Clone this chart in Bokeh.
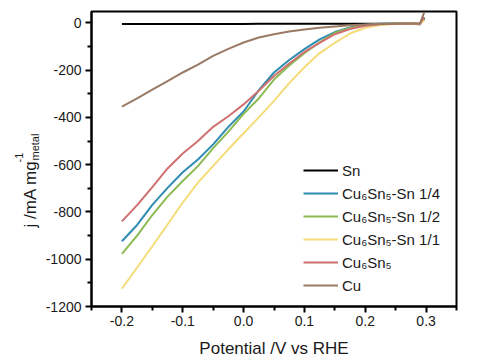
import math
from bokeh.plotting import figure
from bokeh.layouts import row
from bokeh.models import (Legend, LegendItem, FixedTicker,
                          CustomJSTickFormatter, ColumnDataSource)
from bokeh.core.properties import value
from bokeh.embed import file_html
from bokeh.resources import INLINE

# ---------------- data ----------------
potential = [-0.2, -0.175, -0.15, -0.125, -0.1, -0.075, -0.05, -0.025, 0.0,
             0.025, 0.05, 0.075, 0.1, 0.125, 0.15, 0.175, 0.2, 0.225, 0.25,
             0.275, 0.29, 0.297]

sn = [-5, -5, -5, -5, -5, -5, -5, -5, -5, -4, -4, -4, -4, -4, -4, -4, -4,
      -4, -4, -4, -6, 20]
cu6sn5_sn_14 = [-924, -855, -770, -698, -632, -578, -514, -440, -375, -285,
                -210, -157, -111, -70, -39, -20, -8, -4, -3, -3, -5, 20]
cu6sn5_sn_12 = [-977, -900, -813, -735, -669, -606, -530, -460, -385, -320,
                -240, -180, -128, -82, -42, -22, -10, -5, -3, -3, -4, 15]
cu6sn5_sn_11 = [-1125, -1035, -945, -853, -760, -676, -605, -535, -467, -400,
                -330, -255, -188, -128, -85, -45, -21, -9, -5, -3, -4, 10]
cu6sn5 = [-840, -771, -695, -616, -553, -500, -440, -395, -345, -287, -225,
          -172, -123, -85, -48, -26, -12, -6, -4, -3, -4, 25]
cu = [-354, -320, -283, -247, -210, -177, -140, -110, -83, -62, -48, -37,
      -28, -21, -15, -10, -7, -5, -4, -3, -3, 45]

series_names = ["Sn", "Cu\u2086Sn\u2085-Sn 1/4", "Cu\u2086Sn\u2085-Sn 1/2",
                "Cu\u2086Sn\u2085-Sn 1/1", "Cu\u2086Sn\u2085", "Cu"]
series_values = [sn, cu6sn5_sn_14, cu6sn5_sn_12, cu6sn5_sn_11, cu6sn5, cu]
series_colors = ["#000000", "#2e8cb0", "#8cba52", "#f4dc78", "#d07070",
                 "#9a7a64"]

x_ticks = [-0.2, -0.1, 0.0, 0.1, 0.2, 0.3]
x_minor = [-0.25, -0.15, -0.05, 0.05, 0.15, 0.25, 0.35]
y_ticks = [-1200, -1000, -800, -600, -400, -200, 0]
y_minor = [-1100, -900, -700, -500, -300, -100]

# y-axis title pieces: main text, superscript, subscript
y_title_parts = ["j /mA mg", "-1", "metal"]

FONT = "Liberation Sans"
TXT = "#1a1a1a"

# ---------------- main figure ----------------
p = figure(frame_width=365, frame_height=295,
           x_range=(-0.25, 0.35), y_range=(-1200, 48),
           output_backend="svg", toolbar_location=None,
           min_border_left=51, min_border_right=22,
           min_border_top=11, min_border_bottom=52)
p.xgrid.visible = False
p.ygrid.visible = False
p.outline_line_color = "black"
p.outline_line_width = 2
p.outline_line_alpha = 1.0
p.background_fill_color = "white"
p.border_fill_color = "white"

renderers = []
for name, vals, col in zip(series_names, series_values, series_colors):
    src = ColumnDataSource(dict(x=potential, y=vals))
    r = p.line("x", "y", source=src, line_color=col, line_width=2)
    renderers.append(r)

for ax in (p.xaxis[0], p.yaxis[0]):
    ax.axis_line_width = 2
    ax.axis_line_color = "black"
    ax.major_tick_in = 0
    ax.major_tick_out = 6
    ax.minor_tick_in = 0
    ax.minor_tick_out = 4
    ax.major_tick_line_width = 2
    ax.minor_tick_line_width = 2
    ax.major_tick_line_color = "black"
    ax.minor_tick_line_color = "black"
    ax.major_label_text_font = FONT
    ax.major_label_text_font_size = "14px"
    ax.major_label_text_color = TXT

p.xaxis.ticker = FixedTicker(ticks=x_ticks, minor_ticks=x_minor)
p.yaxis.ticker = FixedTicker(ticks=y_ticks, minor_ticks=y_minor)
p.xaxis.formatter = CustomJSTickFormatter(code="return tick.toFixed(1);")
p.yaxis.formatter = CustomJSTickFormatter(code="return tick.toFixed(0);")
p.xaxis.major_label_standoff = 3
p.yaxis.major_label_standoff = 4

p.xaxis.axis_label = "Potential /V vs RHE"
p.xaxis.axis_label_text_font = FONT
p.xaxis.axis_label_text_font_size = "17px"
p.xaxis.axis_label_text_font_style = "normal"
p.xaxis.axis_label_text_color = TXT
p.xaxis.axis_label_standoff = 10

items = [LegendItem(label=n, renderers=[r])
         for n, r in zip(series_names, renderers)]
legend = Legend(items=items, location=(212, 11),
                border_line_color=None, background_fill_alpha=0,
                padding=0, margin=0, spacing=3,
                glyph_width=35, glyph_height=20, label_height=20,
                label_standoff=4, label_text_font=FONT,
                label_text_font_size="15px", label_text_color=TXT)
p.add_layout(legend)

# ---------------- narrow strip holding the y-axis title ----------------
# its ranges are in pixels of the strip (y downward)
t = figure(frame_width=40, frame_height=358, x_range=(0, 40),
           y_range=(358, 0), x_axis_type=None, y_axis_type=None,
           output_backend="svg", toolbar_location=None,
           min_border=0, outline_line_color=None)
t.xgrid.visible = False
t.ygrid.visible = False
t.border_fill_color = "white"
t.background_fill_color = "white"
tsrc = ColumnDataSource(dict(x=[30, 18, 34], y=[216, 151, 149],
                             text=y_title_parts,
                             size=["17px", "11px", "11px"]))
t.text("x", "y", text="text", source=tsrc, angle=math.pi / 2,
       text_font=value(FONT), text_font_size="size", text_color=TXT,
       text_baseline="alphabetic", text_align="left")

layout = row(t, p, spacing=0)
open("out.html", "w").write(file_html(layout, INLINE))
